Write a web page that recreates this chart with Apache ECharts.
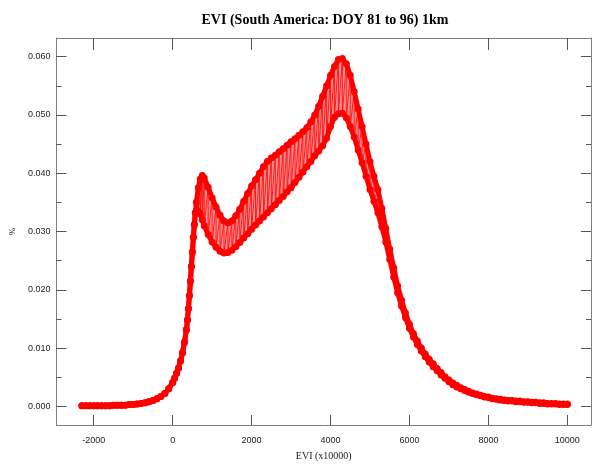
<!DOCTYPE html>
<html><head><meta charset="utf-8">
<script src="https://cdn.jsdelivr.net/npm/echarts@6/dist/echarts.min.js"></script>
<style>html,body{margin:0;padding:0;background:#fff}#c{width:593px;height:466px}</style>
</head><body><div id="c"></div>
<script>
const evi = [-2300,-2200,-2100,-2000,-1900,-1800,-1700,-1600,-1500,-1400,-1300,-1200,-1100,-1000,-900,-800,-700,-600,-500,-400,-300,-200,-100,
  0,50,100,150,200,250,300,350,375,400,425,450,475,500,525,550,575,600,650,700,750,800,
  900,1000,1100,1200,1300,1400,1500,1600,1700,1800,1900,2000,2100,2200,2300,2400,2500,2600,2700,2800,2900,3000,
  3100,3200,3300,3400,3500,3600,3700,3800,3900,4000,4100,4200,4300,4400,4500,4600,4700,4800,4900,5000,
  5100,5200,5300,5400,5500,5600,5700,5800,5900,6000,6100,6200,6300,6400,6500,6600,6700,6800,6900,7000,
  7100,7200,7300,7400,7500,7600,7700,7800,7900,8000,8100,8200,8300,8400,8500,8600,8700,8800,8900,9000,
  9100,9200,9300,9400,9500,9600,9700,9800,9900,10000];
const upperPct = [0.0001,0.0001,0.0001,0.0001,0.0001,0.0001,0.0001,0.0001,0.0002,0.0002,0.0002,0.0002,0.0003,0.0003,0.0004,0.0005,0.0006,0.0008,0.0010,0.0013,0.0017,0.0022,0.0030,
  0.0041,0.0048,0.0057,0.0066,0.0078,0.0092,0.0110,0.0132,0.0148,0.0168,0.0190,0.0215,0.0240,0.0265,0.0290,0.0312,0.0332,0.0350,0.0375,0.0390,0.0396,0.0392,
  0.0376,0.0358,0.0342,0.0328,0.0318,0.0315,0.0318,0.0327,0.0338,0.0352,0.0365,0.0378,0.0389,0.0400,0.0411,0.0420,0.0426,0.0431,0.0437,0.0442,0.0448,0.0454,
  0.0459,0.0465,0.0471,0.0478,0.0488,0.0500,0.0515,0.0532,0.0550,0.0568,0.0583,0.0595,0.0597,0.0588,0.0568,0.0540,0.0510,0.0480,0.0450,0.0420,
  0.0395,0.0372,0.0340,0.0305,0.0270,0.0238,0.0207,0.0182,0.0160,0.0141,0.0125,0.0112,0.0100,0.0090,0.0081,0.0073,0.0065,0.0058,0.0051,0.0045,
  0.0040,0.0036,0.0032,0.0029,0.0026,0.0023,0.0021,0.0019,0.0017,0.0016,0.0014,0.0013,0.0012,0.0011,0.0010,0.0010,0.0009,0.0009,0.0008,0.0008,
  0.0007,0.0007,0.0006,0.0006,0.0005,0.0005,0.0005,0.0004,0.0004,0.0004];
const lowerPct = [0.0001,0.0001,0.0001,0.0001,0.0001,0.0001,0.0001,0.0001,0.0002,0.0002,0.0002,0.0002,0.0003,0.0003,0.0004,0.0005,0.0006,0.0008,0.0010,0.0013,0.0017,0.0022,0.0030,
  0.0041,0.0048,0.0057,0.0066,0.0078,0.0092,0.0110,0.0132,0.0148,0.0168,0.0190,0.0215,0.0240,0.0265,0.0290,0.0312,0.0332,0.0335,0.0335,0.0330,0.0320,0.0310,
  0.0295,0.0282,0.0273,0.0266,0.0263,0.0264,0.0268,0.0274,0.0281,0.0289,0.0296,0.0304,0.0311,0.0318,0.0325,0.0332,0.0339,0.0346,0.0353,0.0360,0.0368,0.0375,
  0.0384,0.0393,0.0402,0.0411,0.0420,0.0430,0.0438,0.0447,0.0460,0.0480,0.0496,0.0502,0.0503,0.0495,0.0480,0.0462,0.0440,0.0418,0.0395,0.0372,
  0.0352,0.0332,0.0308,0.0282,0.0252,0.0222,0.0195,0.0172,0.0152,0.0134,0.0119,0.0106,0.0095,0.0085,0.0076,0.0068,0.0061,0.0054,0.0048,0.0042,
  0.0037,0.0033,0.0030,0.0027,0.0024,0.0022,0.0020,0.0018,0.0016,0.0015,0.0013,0.0012,0.0011,0.0010,0.0009,0.0009,0.0008,0.0008,0.0007,0.0007,
  0.0006,0.0006,0.0005,0.0005,0.0004,0.0004,0.0004,0.0003,0.0003,0.0003];
const xTickValues = [-2000,0,2000,4000,6000,8000,10000];
const yTickValues = [0,0.01,0.02,0.03,0.04,0.05,0.06];
const yMinorTickValues = [0,0.005,0.01,0.015,0.02,0.025,0.03,0.035,0.04,0.045,0.05,0.055,0.06];
const titleText = 'EVI (South America: DOY 81 to 96) 1km';
const xName = 'EVI (x10000)';
const yName = '%';

const RED = '#ff0000';
const AX = '#808080';
const X_MIN = -2945, X_MAX = 10600, Y_MIN = -0.0032, Y_MAX = 0.0632;

const upperData = evi.map((v, i) => [v, upperPct[i]]);
const lowerData = evi.map((v, i) => [v, lowerPct[i]]);
const zigzag = [];
evi.forEach((v, i) => { zigzag.push([v, upperPct[i]]); zigzag.push([v, lowerPct[i]]); });

const chart = echarts.init(document.getElementById('c'), null, {renderer: 'canvas'});
const baseX = {type: 'value', min: X_MIN, max: X_MAX, splitLine: {show: false}};
const baseY = {type: 'value', min: Y_MIN, max: Y_MAX, splitLine: {show: false}};
const tickStyle = {color: '#555', width: 1};
const edgeLine = (data) => ({type: 'line', data: data, xAxisIndex: 0, yAxisIndex: 0, symbol: 'none', showSymbol: false,
  lineStyle: {color: RED, width: 5, cap: 'round', join: 'round'}, silent: true, z: 3});
const dots = (data) => ({type: 'scatter', data: data, xAxisIndex: 0, yAxisIndex: 0, symbol: 'circle', symbolSize: 7,
  itemStyle: {color: RED, opacity: 1}, silent: true, z: 4});
chart.setOption({
  animation: false,
  backgroundColor: '#ffffff',
  title: {text: titleText, left: 320, top: 8, textAlign: 'center',
    textStyle: {fontFamily: 'Liberation Serif', fontWeight: 'bold', fontSize: 14, color: '#000'}},
  grid: {left: 48, right: 2, top: 38, bottom: 34, containLabel: false},
  xAxis: [
    Object.assign({}, baseX, {position: 'bottom',
      axisLine: {show: true, onZero: false, lineStyle: {color: AX, width: 1}},
      axisTick: {show: true, inside: true, length: 10, customValues: xTickValues, lineStyle: tickStyle},
      axisLabel: {show: true, customValues: xTickValues, formatter: v => String(v), color: '#222', fontSize: 9, fontFamily: 'Liberation Sans', margin: 11},
      name: xName, nameLocation: 'middle', nameGap: 26,
      nameTextStyle: {fontFamily: 'Liberation Serif', fontSize: 10, color: '#222'}}),
    Object.assign({}, baseX, {position: 'top',
      axisLine: {show: true, onZero: false, lineStyle: {color: AX, width: 1}},
      axisTick: {show: true, inside: true, length: 12, customValues: xTickValues, lineStyle: tickStyle},
      axisLabel: {show: false}})
  ],
  yAxis: [
    Object.assign({}, baseY, {position: 'left',
      axisLine: {show: true, onZero: false, lineStyle: {color: AX, width: 1}},
      axisTick: {show: true, inside: true, length: 10, customValues: yTickValues, lineStyle: tickStyle},
      axisLabel: {show: true, customValues: yTickValues, formatter: v => Number(v).toFixed(3),
        color: '#222', fontSize: 9, fontFamily: 'Liberation Sans', margin: 6},
      name: yName, nameLocation: 'middle', nameGap: 36, nameRotate: 90,
      nameTextStyle: {fontFamily: 'Liberation Serif', fontSize: 9, color: '#222'}}),
    Object.assign({}, baseY, {position: 'left',
      axisLine: {show: false, onZero: false},
      axisTick: {show: true, inside: true, length: 5, customValues: yMinorTickValues, lineStyle: tickStyle},
      axisLabel: {show: false}}),
    Object.assign({}, baseY, {position: 'right',
      axisLine: {show: true, onZero: false, lineStyle: {color: AX, width: 1}},
      axisTick: {show: true, inside: true, length: 10, customValues: yTickValues, lineStyle: tickStyle},
      axisLabel: {show: false}}),
    Object.assign({}, baseY, {position: 'right',
      axisLine: {show: false, onZero: false},
      axisTick: {show: true, inside: true, length: 5, customValues: yMinorTickValues, lineStyle: tickStyle},
      axisLabel: {show: false}})
  ],
  series: [
    {type: 'custom', xAxisIndex: 0, yAxisIndex: 0, data: [[evi[0], upperPct[0]]], silent: true, z: 1,
      renderItem: function (params, api) {
        const pts = [];
        for (let i = 0; i < evi.length; i++) pts.push(api.coord([evi[i], upperPct[i]]));
        for (let i = evi.length - 1; i >= 0; i--) pts.push(api.coord([evi[i], lowerPct[i]]));
        return {type: 'polygon', shape: {points: pts}, style: {fill: 'rgba(255,30,30,0.5)', stroke: null}};
      }},
    {type: 'line', data: zigzag, xAxisIndex: 0, yAxisIndex: 0, showSymbol: false, symbol: 'none',
      lineStyle: {color: RED, width: 0.9, opacity: 0.9}, silent: true, z: 2},
    edgeLine(upperData),
    edgeLine(lowerData),
    dots(upperData),
    dots(lowerData)
  ]
});
</script>
</body></html>
